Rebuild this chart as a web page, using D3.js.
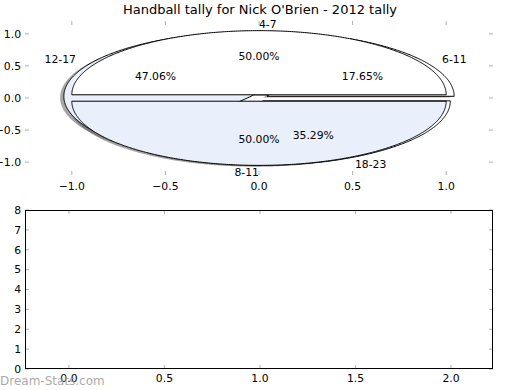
<!DOCTYPE html>
<html><head><meta charset="utf-8">
<script src="https://cdn.jsdelivr.net/npm/d3@7"></script>
<style>body{margin:0;background:#fff}text{font-family:"DejaVu Sans",sans-serif}</style>
</head><body><svg id="c" width="520" height="390"></svg>
<script>
const title = "Handball tally for Nick O'Brien - 2012 tally";
// first pie (drawn underneath)
const pieALabels = ["6-11", "12-17", "18-23"];
const pieAValues = [3, 8, 6];
const pieAColors = ["#ffffff", "#e9f0fc", "#ffffff"];
// second pie (drawn on top)
const pieBLabels = ["4-7", "8-11"];
const pieBValues = [1, 1];
const pieBColors = ["#ffffff", "#e9f0fc"];
const explode = 0.05;
const topXTicks = [-1.0, -0.5, 0.0, 0.5, 1.0];
const topYTicks = [-1.0, -0.5, 0.0, 0.5, 1.0];
const botXTicks = [0.0, 0.5, 1.0, 1.5, 2.0];
const botYTicks = [0, 1, 2, 3, 4, 5, 6, 7, 8];

const svg = d3.select("#c");
const L = 25, R = 493;
const x1 = d3.scaleLinear().domain([-1.25, 1.25]).range([L, R]);
const y1 = d3.scaleLinear().domain([-1.2, 1.2]).range([175, 21]);
const x2 = d3.scaleLinear().domain([-0.23, 2.22]).range([L, R]);
const y2 = d3.scaleLinear().domain([0, 8]).range([369, 210]);

svg.append("text").attr("x", 260).attr("y", 14).attr("text-anchor", "middle")
  .attr("font-size", 13).text(title);

const pie = d3.pie().sort(null).startAngle(0).endAngle(2 * Math.PI);
const line = d3.line();
function wedgePts(cx, cy, a0, a1) {
  const pts = [[x1(cx), y1(cy)]];
  const n = Math.max(2, Math.ceil((a1 - a0) / 0.01));
  for (let i = 0; i <= n; i++) {
    const t = a0 + (a1 - a0) * i / n;
    pts.push([x1(cx + Math.cos(t)), y1(cy + Math.sin(t))]);
  }
  return pts;
}
function layout(values) {
  return pie(values).map(d => {
    const m = (d.startAngle + d.endAngle) / 2;
    return {d, m, cx: explode * Math.cos(m), cy: explode * Math.sin(m)};
  });
}
const A = layout(pieAValues), B = layout(pieBValues);
const shadowG = svg.append("g"), wedgeG = svg.append("g"), textG = svg.append("g");
function drawPie(arr, colors, labels) {
  arr.forEach((w, i) => {
    shadowG.append("path")
      .attr("d", line(wedgePts(w.cx - 0.02, w.cy - 0.02, w.d.startAngle, w.d.endAngle)) + "Z")
      .attr("fill", "#4d4d4d").attr("fill-opacity", 0.5);
    wedgeG.append("path")
      .attr("d", line(wedgePts(w.cx, w.cy, w.d.startAngle, w.d.endAngle)) + "Z")
      .attr("fill", colors[i]).attr("stroke", "#000").attr("stroke-width", 1)
      .attr("stroke-linejoin", "miter");
    const lx = w.cx + 1.1 * Math.cos(w.m), ly = w.cy + 1.1 * Math.sin(w.m);
    textG.append("text").attr("x", x1(lx)).attr("y", y1(ly)).attr("dy", "0.35em")
      .attr("text-anchor", lx > 1e-9 || Math.abs(lx) < 1e-9 && Math.cos(w.m) >= 0 ? "start" : "end")
      .attr("font-size", 10.8).text(labels[i]);
    const px = w.cx + 0.6 * Math.cos(w.m), py = w.cy + 0.6 * Math.sin(w.m);
    const tot = d3.sum(arr, e => e.d.value);
    textG.append("text").attr("x", x1(px)).attr("y", y1(py)).attr("dy", "0.35em")
      .attr("text-anchor", "middle").attr("font-size", 10.8)
      .text((100 * w.d.value / tot).toFixed(2) + "%");
  });
}
drawPie(A, pieAColors, pieALabels);
drawPie(B, pieBColors, pieBLabels);

// top axes ticks (no spines)
const tickCol = "#b0b0b0", tl = 4;
const topAx = svg.append("g");
topXTicks.forEach(v => {
  topAx.append("line").attr("x1", x1(v)).attr("x2", x1(v)).attr("y1", 21).attr("y2", 21 + tl).attr("stroke", tickCol);
  topAx.append("line").attr("x1", x1(v)).attr("x2", x1(v)).attr("y1", 175).attr("y2", 175 - tl).attr("stroke", tickCol);
  topAx.append("text").attr("x", x1(v)).attr("y", 190).attr("text-anchor", "middle").attr("font-size", 10.8)
    .text(d3.format(".1f")(v).replace("-", "\u2212"));
});
topYTicks.forEach(v => {
  topAx.append("line").attr("x1", L).attr("x2", L + tl).attr("y1", y1(v)).attr("y2", y1(v)).attr("stroke", tickCol);
  topAx.append("line").attr("x1", R).attr("x2", R - tl).attr("y1", y1(v)).attr("y2", y1(v)).attr("stroke", tickCol);
  topAx.append("text").attr("x", L - 4).attr("y", y1(v)).attr("dy", "0.35em").attr("text-anchor", "end").attr("font-size", 10.8)
    .text(d3.format(".1f")(v).replace("-", "\u2212"));
});

// bottom axes
const bot = svg.append("g");
botXTicks.forEach(v => {
  bot.append("line").attr("x1", x2(v)).attr("x2", x2(v)).attr("y1", 369).attr("y2", 369 - tl).attr("stroke", tickCol);
  bot.append("line").attr("x1", x2(v)).attr("x2", x2(v)).attr("y1", 210).attr("y2", 210 + tl).attr("stroke", tickCol);
  bot.append("text").attr("x", x2(v)).attr("y", 378).attr("dy", "0.35em").attr("text-anchor", "middle").attr("font-size", 10.8)
    .text(d3.format(".1f")(v));
});
botYTicks.forEach(v => {
  bot.append("line").attr("x1", L).attr("x2", L + tl).attr("y1", y2(v)).attr("y2", y2(v)).attr("stroke", tickCol);
  bot.append("line").attr("x1", R).attr("x2", R - tl).attr("y1", y2(v)).attr("y2", y2(v)).attr("stroke", tickCol);
  bot.append("text").attr("x", L - 4).attr("y", y2(v)).attr("dy", "0.35em").attr("text-anchor", "end").attr("font-size", 10.8)
    .text(v);
});
bot.append("rect").attr("x", L + 0.5).attr("y", 210.5).attr("width", R - L - 1).attr("height", 158)
  .attr("fill", "none").attr("stroke", "#000").attr("stroke-width", 1);

svg.append("text").attr("x", 0).attr("y", 385).attr("font-size", 12)
  .attr("font-family", "'Open Sans', 'DejaVu Sans', sans-serif")
  .attr("fill", "#999").attr("fill-opacity", 0.85).text("Dream-Stats.com");
</script></body></html>
